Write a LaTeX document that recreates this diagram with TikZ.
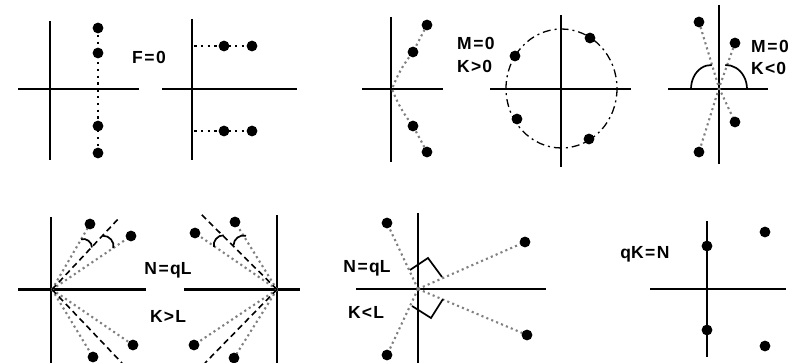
\documentclass[tikz,border=0pt]{standalone}
\usepackage{fontspec}
\setmainfont{Liberation Sans}
\usetikzlibrary{calc}
\begin{document}
\begin{tikzpicture}[x=1pt,y=-1pt,
  axis/.style={line width=2.2pt},
  dotn/.style={circle,fill=black,inner sep=0pt,minimum size=10.8pt},
  bdot/.style={line width=2.5pt,dash pattern=on 2.5pt off 4.3pt},
  gdot/.style={line width=2.1pt,color=black!50,dash pattern=on 2.1pt off 3.2pt},
  bdash/.style={line width=1.6pt,dash pattern=on 6pt off 4pt},
  circd/.style={line width=1.3pt,dash pattern=on 8pt off 4pt on 2pt off 4pt},
  tickmk/.style={line width=1.7pt},
  lbl/.style={font=\fontsize{17.5}{20}\selectfont\bfseries,inner sep=0pt,align=left},
]
\useasboundingbox (0,0) rectangle (792,363);
\newcommand{\eq}{\kern1.5pt=\kern1.5pt}
\newcommand{\lt}{\kern1.2pt<\kern1.2pt}
\newcommand{\gt}{\kern1.2pt>\kern1.2pt}

% ---------- Panel 1 ----------
\draw[axis] (50,21) -- (50,160);
\draw[axis] (18,89) -- (139,89);
\coordinate (p1a) at (98,28);
\coordinate (p1b) at (98,53);
\coordinate (p1c) at (98,126);
\coordinate (p1d) at (98,153);
\draw[bdot] (p1a) -- (p1d);
\foreach \n in {p1a,p1b,p1c,p1d} \node[dotn] (\n-dot) at (\n) {};
\node[lbl] (F0) at (149,57) {F\eq0};

% ---------- Panel 2 ----------
\draw[axis] (192,19) -- (192,160);
\draw[axis] (162,89) -- (297,89);
\coordinate (p2s) at (194,46);
\coordinate (p2a) at (224,46);
\coordinate (p2b) at (252,46);
\coordinate (p2t) at (194,131);
\coordinate (p2c) at (224,131);
\coordinate (p2d) at (252,131);
\draw[bdot] (p2s) -- (p2b);
\draw[bdot] (p2t) -- (p2d);
\foreach \n in {p2a,p2b,p2c,p2d} \node[dotn] (\n-dot) at (\n) {};

% ---------- Panel 3 ----------
\draw[axis] (391,17) -- (391,162);
\draw[axis] (362,89) -- (443,89);
\coordinate (p3a) at (427,25);
\coordinate (p3b) at (413,52);
\coordinate (p3o) at (392,89);
\coordinate (p3c) at (413,126);
\coordinate (p3d) at (427,152);
\draw[gdot] (p3a) -- (p3b) to[bend right=8] (p3o) to[bend right=8] (p3c) -- (p3d);
\foreach \n in {p3a,p3b,p3c,p3d} \node[dotn] (\n-dot) at (\n) {};
\node[lbl,anchor=west] (M0a) at (457,43) {M\eq0};
\node[lbl,anchor=west] (K0a) at (457,66) {K\gt0};

% ---------- Panel 4 ----------
\draw[axis] (561,15) -- (561,167);
\draw[axis] (490,89) -- (631,89);
\coordinate (p4o) at (561.5,88.5);
\draw[circd] (p4o) ellipse[x radius=55.5,y radius=59.5];
\coordinate (p4a) at (590,38);
\coordinate (p4b) at (589,139);
\coordinate (p4c) at (515,56);
\coordinate (p4d) at (517,119);
\foreach \n in {p4a,p4b,p4c,p4d} \node[dotn] (\n-dot) at (\n) {};

% ---------- Panel 5 ----------
\draw[axis] (719,5) -- (719,164);
\draw[axis] (668,89) -- (768,89);
\coordinate (p5o) at (719,88);
\coordinate (p5a) at (699,22);
\coordinate (p5b) at (735,43);
\coordinate (p5c) at (735,122);
\coordinate (p5d) at (699,152);
\draw[gdot] (p5a) -- (p5o) -- (p5c);
\draw[gdot] (p5b) -- (p5o) -- (p5d);
\coordinate (p5l) at (711,89);
\coordinate (p5r) at (726,89);
\draw[tickmk] ([shift={(180:20 and 24)}]p5l) arc[start angle=180,end angle=272,x radius=20,y radius=24];
\draw[tickmk] ([shift={(268:21 and 24)}]p5r) arc[start angle=268,end angle=360,x radius=21,y radius=24];
\foreach \n in {p5a,p5b,p5c,p5d} \node[dotn] (\n-dot) at (\n) {};
\node[lbl,anchor=west] (M0b) at (751,46) {M\eq0};
\node[lbl,anchor=west] (K0b) at (751,68) {K\lt0};

% ---------- Panel 6 ----------
\draw[axis] (51,217) -- (51,363);
\draw[axis] (18,289.5) -- (146,289.5);
\coordinate (p6o) at (52,289.5);
\coordinate (p6a) at (90,224);
\coordinate (p6b) at (131,236);
\coordinate (p6c) at (133,345);
\coordinate (p6d) at (93,357);
\coordinate (p6e) at (120,217);
\coordinate (p6f) at (122,363);
\foreach \n in {p6a,p6b,p6c,p6d} \draw[gdot] (p6o) -- (\n);
\draw[bdash] (p6o) -- (p6e);
\draw[bdash] (p6o) -- (p6f);
\draw[tickmk] ($(p6o)+(-60:58)$) to[bend left=55] ($(p6o)+(-46.5:58)$);
\draw[tickmk] ($(p6o)+(-46.5:74)$) to[bend left=55] ($(p6o)+(-34:74)$);
\foreach \n in {p6a,p6b,p6c,p6d} \node[dotn] (\n-dot) at (\n) {};

% ---------- Panel 7 ----------
\draw[axis] (277,215) -- (277,363);
\draw[axis] (184,289.5) -- (300,289.5);
\coordinate (p7o) at (277,289.5);
\coordinate (p7a) at (235,222);
\coordinate (p7b) at (195,233);
\coordinate (p7c) at (194,345);
\coordinate (p7d) at (234,358);
\coordinate (p7e) at (201,214);
\coordinate (p7f) at (205,363);
\foreach \n in {p7a,p7b,p7c,p7d} \draw[gdot] (p7o) -- (\n);
\draw[bdash] (p7o) -- (p7e);
\draw[bdash] (p7o) -- (p7f);
\draw[tickmk] ($(p7o)+(-120:62)$) to[bend right=55] ($(p7o)+(-134.5:62)$);
\draw[tickmk] ($(p7o)+(-134.5:76)$) to[bend right=55] ($(p7o)+(-146:76)$);
\foreach \n in {p7a,p7b,p7c,p7d} \node[dotn] (\n-dot) at (\n) {};
\node[lbl] (NqL1) at (168,270.5) {N\eq qL};
\node[lbl] (KL1) at (168,316) {K\gt L};

% ---------- Panel 8 ----------
\draw[axis] (418,213) -- (418,363);
\draw[axis] (356,289) -- (546,289);
\coordinate (p8o) at (418,289);
\coordinate (p8a) at (387,223);
\coordinate (p8b) at (525,242);
\coordinate (p8c) at (527,335);
\coordinate (p8d) at (387,355);
\foreach \n in {p8a,p8b,p8c,p8d} \draw[gdot] (p8o) -- (\n);
\coordinate (m1a) at (410,270);
\coordinate (m1b) at (428,258);
\coordinate (m1c) at (442,277);
\coordinate (m2a) at (412,306);
\coordinate (m2b) at (431,318);
\coordinate (m2c) at (443,299);
\draw[tickmk] (m1a) -- (m1b) -- (m1c);
\draw[tickmk] (m2a) -- (m2b) -- (m2c);
\foreach \n in {p8a,p8b,p8c,p8d} \node[dotn] (\n-dot) at (\n) {};
\node[lbl] (NqL2) at (367,268) {N\eq qL};
\node[lbl] (KL2) at (366,312) {K\lt L};

% ---------- Panel 9 ----------
\draw[axis] (707,221) -- (707,357);
\draw[axis] (650,289) -- (786,289);
\coordinate (p9a) at (707,246);
\coordinate (p9b) at (707,330);
\coordinate (p9c) at (765,232);
\coordinate (p9d) at (765,346);
\foreach \n in {p9a,p9b,p9c,p9d} \node[dotn] (\n-dot) at (\n) {};
\node[lbl] (qKN) at (645,254) {qK\eq N};
\end{tikzpicture}
\end{document}
